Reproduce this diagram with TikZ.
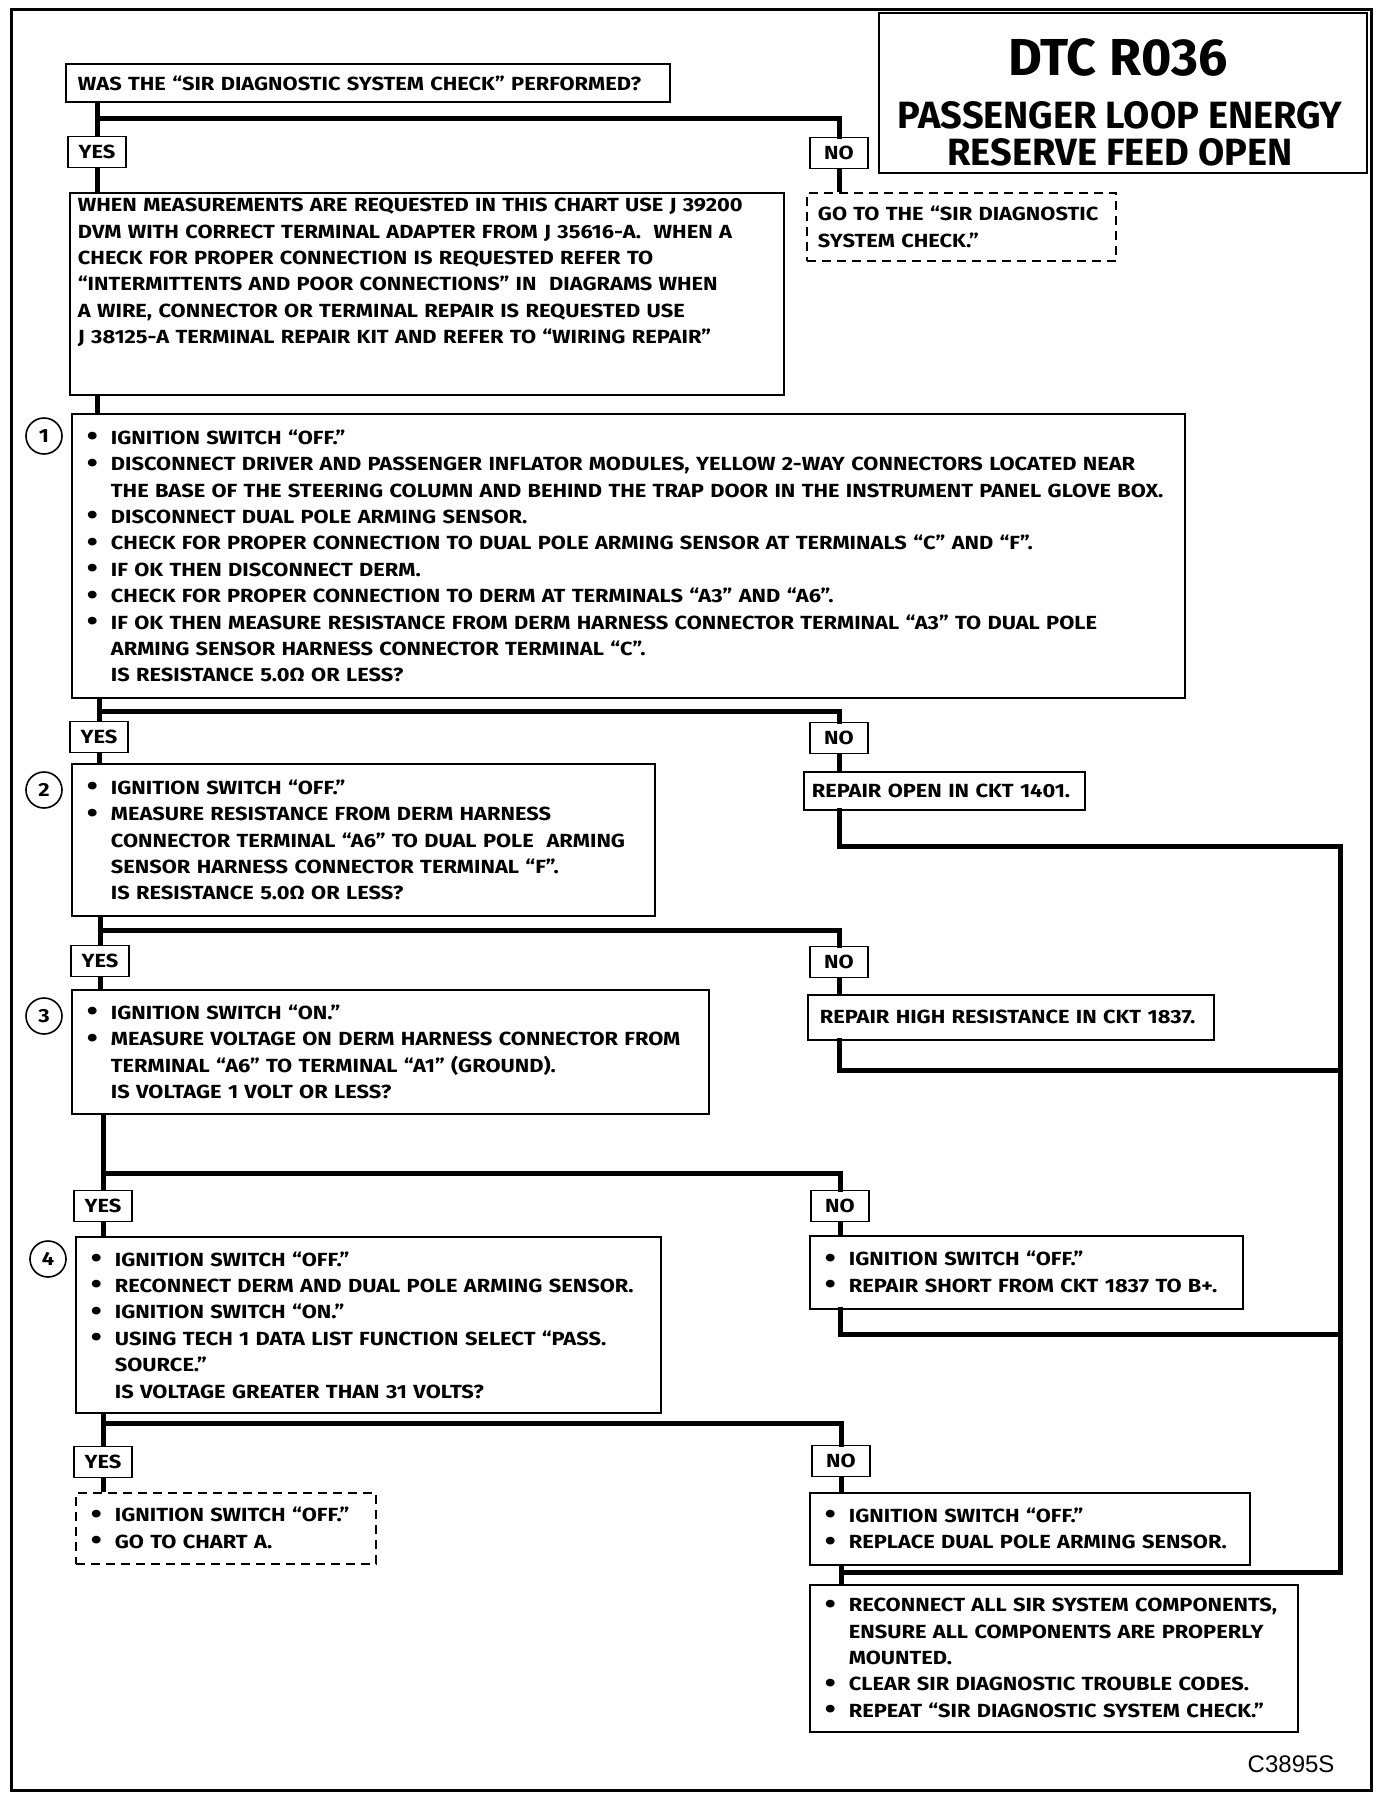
\documentclass[tikz,border=0pt]{standalone}
\usepackage{fontspec}
\newfontfamily\chartfont{Fira Sans}[FakeStretch=1.15]
\newfontfamily\titlefont{Fira Sans}
\newfontfamily\codefont{Liberation Sans}
\newcommand\bl{\makebox[24pt][l]{\raisebox{-0.15ex}{\scalebox{1.45}{\textbullet}}}}
\newcommand\ind{\hspace*{24pt}}

\begin{document}
\begin{tikzpicture}[
        x=1pt, y=-1pt,
        txt/.style={font=\chartfont\bfseries\fontsize{19}{26.4}\selectfont},
        box/.style={draw, line width=1.8pt, anchor=north west, align=left, inner ysep=0pt, txt},
        dbox/.style={box, dash pattern=on 9pt off 6pt},
        tag/.style={draw, line width=1.8pt, minimum width=58pt, minimum height=31pt, inner sep=0pt, txt},
        num/.style={circle, draw, line width=1.6pt, minimum size=36pt, inner sep=0pt, txt},
        conn/.style={line width=5pt},
        bar/.style={conn, line cap=rect}
    ]
    \useasboundingbox (0,0) rectangle (1392,1800);
    \draw[line width=3pt] (11,9) rectangle (1371,1790);

    % title
    \node[draw, line width=2pt, anchor=north west, minimum width=488pt, minimum height=160pt] (titlebox) at (878,12) {};
    \node[font=\titlefont\bfseries\fontsize{52}{52}\selectfont] (dtc) at (1118,57) {DTC R036};
    \node[font=\titlefont\bfseries\fontsize{38}{38}\selectfont] (ttl1) at (1120,115) {PASSENGER LOOP ENERGY};
    \node[font=\titlefont\bfseries\fontsize{38}{38}\selectfont] (ttl2) at (1120,152) {RESERVE FEED OPEN};

    % boxes
    \node[box, inner xsep=12pt, text width=580pt, minimum height=38pt] (q0) at (65,63)
        {WAS THE “SIR DIAGNOSTIC SYSTEM CHECK” PERFORMED?};
    \node[box, inner xsep=8pt, text width=698pt, minimum height=202pt] (info) at (69,192)
        {WHEN MEASUREMENTS ARE REQUESTED IN THIS CHART USE J 39200\\
         DVM WITH CORRECT TERMINAL ADAPTER FROM J 35616-A.\ \ WHEN A\\
         CHECK FOR PROPER CONNECTION IS REQUESTED REFER TO\\
         “INTERMITTENTS AND POOR CONNECTIONS” IN\ \ DIAGRAMS WHEN\\
         A WIRE, CONNECTOR OR TERMINAL REPAIR IS REQUESTED USE\\
         J 38125-A TERMINAL REPAIR KIT AND REFER TO “WIRING REPAIR”\rule[-46pt]{0pt}{0pt}};
    \node[dbox, inner xsep=11pt, text width=287pt, minimum height=68pt] (go) at (806,192)
        {GO TO THE “SIR DIAGNOSTIC\\ SYSTEM CHECK.”};

    \node[box, inner xsep=15pt, text width=1083pt, minimum height=284pt] (box1) at (71,413)
        {\bl IGNITION SWITCH “OFF.”\\
         \bl DISCONNECT DRIVER AND PASSENGER INFLATOR MODULES, YELLOW 2-WAY CONNECTORS LOCATED NEAR\\
         \ind THE BASE OF THE STEERING COLUMN AND BEHIND THE TRAP DOOR IN THE INSTRUMENT PANEL GLOVE BOX.\\
         \bl DISCONNECT DUAL POLE ARMING SENSOR.\\
         \bl CHECK FOR PROPER CONNECTION TO DUAL POLE ARMING SENSOR AT TERMINALS “C” AND “F”.\\
         \bl IF OK THEN DISCONNECT DERM.\\
         \bl CHECK FOR PROPER CONNECTION TO DERM AT TERMINALS “A3” AND “A6”.\\
         \bl IF OK THEN MEASURE RESISTANCE FROM DERM HARNESS CONNECTOR TERMINAL “A3” TO DUAL POLE\\
         \ind ARMING SENSOR HARNESS CONNECTOR TERMINAL “C”.\\
         \ind IS RESISTANCE 5.0Ω OR LESS?};
    \node[box, inner xsep=15pt, text width=553pt, minimum height=152pt] (box2) at (71,763)
        {\bl IGNITION SWITCH “OFF.”\\
         \bl MEASURE RESISTANCE FROM DERM HARNESS\\
         \ind CONNECTOR TERMINAL “A6” TO DUAL POLE\ \ ARMING\\
         \ind SENSOR HARNESS CONNECTOR TERMINAL “F”.\\
         \ind IS RESISTANCE 5.0Ω OR LESS?};
    \node[box, inner xsep=8pt, text width=265pt, minimum height=38pt] (rep1) at (803,771)
        {REPAIR OPEN IN CKT 1401.};
    \node[box, inner xsep=15pt, text width=607pt, minimum height=124pt] (box3) at (71,989)
        {\bl IGNITION SWITCH “ON.”\\
         \bl MEASURE VOLTAGE ON DERM HARNESS CONNECTOR FROM\\
         \ind TERMINAL “A6” TO TERMINAL “A1” (GROUND).\\
         \ind IS VOLTAGE 1 VOLT OR LESS?};
    \node[box, inner xsep=12pt, text width=382pt, minimum height=45pt] (rep2) at (807,994)
        {REPAIR HIGH RESISTANCE IN CKT 1837.};
    \node[box, inner xsep=15pt, text width=555pt, minimum height=176pt] (box4) at (75,1236)
        {\bl IGNITION SWITCH “OFF.”\\
         \bl RECONNECT DERM AND DUAL POLE ARMING SENSOR.\\
         \bl IGNITION SWITCH “ON.”\\
         \bl USING TECH 1 DATA LIST FUNCTION SELECT “PASS.\\
         \ind SOURCE.”\\
         \ind IS VOLTAGE GREATER THAN 31 VOLTS?};
    \node[box, inner xsep=15pt, text width=403pt, minimum height=73pt] (fix4) at (809,1235)
        {\bl IGNITION SWITCH “OFF.”\\
         \bl REPAIR SHORT FROM CKT 1837 TO B+.};
    \node[dbox, inner xsep=15pt, text width=270pt, minimum height=71pt] (fix5y) at (75,1492)
        {\bl IGNITION SWITCH “OFF.”\\
         \bl GO TO CHART A.};
    \node[box, inner xsep=15pt, text width=410pt, minimum height=72pt] (fix5) at (809,1492)
        {\bl IGNITION SWITCH “OFF.”\\
         \bl REPLACE DUAL POLE ARMING SENSOR.};
    \node[box, inner xsep=15pt, text width=458pt, minimum height=147pt] (final) at (809,1584)
        {\bl RECONNECT ALL SIR SYSTEM COMPONENTS,\\
         \ind ENSURE ALL COMPONENTS ARE PROPERLY\\
         \ind MOUNTED.\\
         \bl CLEAR SIR DIAGNOSTIC TROUBLE CODES.\\
         \bl REPEAT “SIR DIAGNOSTIC SYSTEM CHECK.”};

    % step numbers
    \node[num] (n1) at (44,436) {1};
    \node[num] (n2) at (44,790) {2};
    \node[num] (n3) at (44,1016) {3};
    \node[num] (n4) at (48,1259) {4};

    % yes / no tags
    \node[tag] (yes1) at (97,152) {YES};
    \node[tag] (no1) at (839,153) {NO};
    \node[tag] (yes2) at (99,737) {YES};
    \node[tag] (no2) at (839,738) {NO};
    \node[tag] (yes3) at (100,961) {YES};
    \node[tag] (no3) at (839,962) {NO};
    \node[tag] (yes4) at (103,1206) {YES};
    \node[tag] (no4) at (840,1206) {NO};
    \node[tag] (yes5) at (103,1462) {YES};
    \node[tag] (no5) at (841,1461) {NO};

    % junctions
    \coordinate (j1) at (97,118);
    \coordinate (j2) at (99,711);
    \coordinate (j3) at (100,930);
    \coordinate (j4) at (103,1173);
    \coordinate (j5) at (103,1423);
    \coordinate (r1) at (1340,846);
    \coordinate (r2) at (1340,1070);
    \coordinate (r3) at (1340,1334);
    \coordinate (r4) at (1340,1572);

    % connectors
    \draw[conn] (q0.south -| yes1) -- (yes1.north);
    \draw[bar] (j1) -| (no1.north);
    \draw[conn] (yes1.south) -- (info.north -| yes1);
    \draw[conn] (no1.south) -- (go.north -| no1);
    \draw[conn] (info.south -| yes1) -- (box1.north -| yes1);

    \draw[conn] (box1.south -| yes2) -- (yes2.north);
    \draw[bar] (j2) -| (no2.north);
    \draw[conn] (yes2.south) -- (box2.north -| yes2);
    \draw[conn] (no2.south) -- (rep1.north -| no2);

    \draw[conn] (box2.south -| yes3) -- (yes3.north);
    \draw[bar] (j3) -| (no3.north);
    \draw[conn] (yes3.south) -- (box3.north -| yes3);
    \draw[conn] (no3.south) -- (rep2.north -| no3);

    \draw[conn] (box3.south -| yes4) -- (yes4.north);
    \draw[bar] (j4) -| (no4.north);
    \draw[conn] (yes4.south) -- (box4.north -| yes4);
    \draw[conn] (no4.south) -- (fix4.north -| no4);

    \draw[conn] (box4.south -| yes5) -- (yes5.north);
    \draw[bar] (j5) -| (no5.north);
    \draw[conn] (yes5.south) -- (fix5y.north -| yes5);
    \draw[conn] (no5.south) -- (fix5.north -| no5);

    % return lines
    \draw[bar] (rep1.south -| no2) |- (r1) -- (r4) -- (r4 -| no5);
    \draw[bar] (rep2.south -| no3) |- (r2);
    \draw[bar] (fix4.south -| no4) |- (r3);
    \draw[conn] (fix5.south -| no5) -- (final.north -| no5);

    \node[anchor=east, font=\codefont\fontsize{24}{24}\selectfont] (code) at (1338,1764) {C3895S};
\end{tikzpicture}
\end{document}
